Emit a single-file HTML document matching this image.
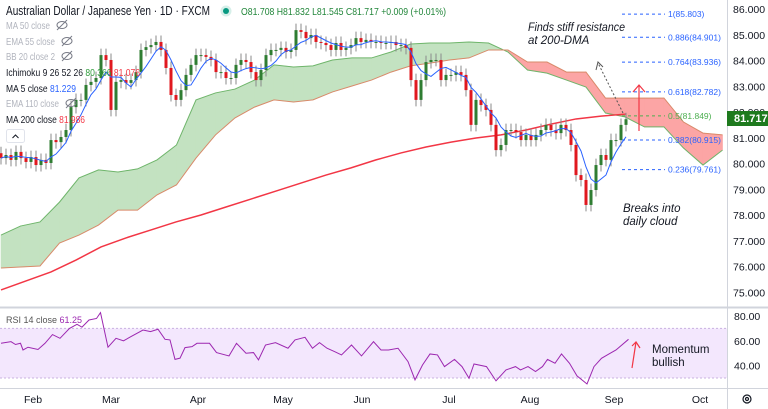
<!DOCTYPE html>
<html><head><meta charset="utf-8">
<style>
html,body{margin:0;padding:0;background:#fff;}
body{width:768px;height:409px;overflow:hidden;font-family:"Liberation Sans",sans-serif;}
svg{display:block}
</style></head>
<body>
<svg id="chart" width="768" height="409" viewBox="0 0 768 409" xmlns="http://www.w3.org/2000/svg" font-family="Liberation Sans, sans-serif">
  <rect x="0" y="0" width="768" height="409" fill="#fff"/>
  <g id="cloud"></g>
  <g id="ma200"></g>
  <g id="candles"></g>
  <g id="ma5"></g>
  <g id="fib"></g>
  <g id="yaxis"></g>
  <g id="rsi"></g>
  <g id="xaxis"></g>

  <line x1="727.5" y1="0" x2="727.5" y2="409" stroke="#d1d4dc"/>
  <line x1="0" y1="307.5" x2="768" y2="307.5" stroke="#d1d4dc" stroke-width="2"/>
  <line x1="0" y1="388.5" x2="768" y2="388.5" stroke="#d1d4dc"/>

  <!-- header -->
  <text x="6" y="15" font-size="12.5" fill="#131722" textLength="204" lengthAdjust="spacingAndGlyphs">Australian Dollar / Japanese Yen · 1D · FXCM</text>
  <circle cx="226" cy="11" r="5.5" fill="#d6efe9"/>
  <circle cx="226" cy="11" r="3" fill="#089981"/>
  <text x="241" y="15" font-size="10.5" fill="#22863a" textLength="205" lengthAdjust="spacingAndGlyphs">O81.708 H81.832 L81.545 C81.717 +0.009 (+0.01%)</text>

  <!-- legend -->
  <g font-size="10.5">
    <text x="6" y="29" fill="#b2b5be" textLength="44" lengthAdjust="spacingAndGlyphs">MA 50 close</text>
    <text x="6" y="45" fill="#b2b5be" textLength="49" lengthAdjust="spacingAndGlyphs">EMA 55 close</text>
    <text x="6" y="60" fill="#b2b5be" textLength="49" lengthAdjust="spacingAndGlyphs">BB 20 close 2</text>
    <text x="6" y="76" fill="#131722" textLength="134" lengthAdjust="spacingAndGlyphs">Ichimoku 9 26 52 26 <tspan fill="#2e9b3a">80.366</tspan> <tspan fill="#f23645">81.076</tspan></text>
    <text x="6" y="92" fill="#131722" textLength="70" lengthAdjust="spacingAndGlyphs">MA 5 close <tspan fill="#2962ff">81.229</tspan></text>
    <text x="6" y="107" fill="#b2b5be" textLength="53" lengthAdjust="spacingAndGlyphs">EMA 110 close</text>
    <text x="6" y="123" fill="#131722" textLength="79" lengthAdjust="spacingAndGlyphs">MA 200 close <tspan fill="#f23645">81.986</tspan></text>
    <g fill="none" stroke="#787b86" stroke-width="1">
      <ellipse cx="62" cy="25" rx="5" ry="3.5"/><line x1="57" y1="30" x2="67" y2="20"/>
      <ellipse cx="67" cy="41" rx="5" ry="3.5"/><line x1="62" y1="46" x2="72" y2="36"/>
      <ellipse cx="67" cy="56" rx="5" ry="3.5"/><line x1="62" y1="61" x2="72" y2="51"/>
      <ellipse cx="71" cy="103" rx="5" ry="3.5"/><line x1="66" y1="108" x2="76" y2="98"/>
    </g>
    <rect x="6.5" y="129.5" width="18" height="13" rx="2" fill="#fff" stroke="#e0e3eb"/>
    <path d="M12.5 138 L15.5 135 L18.5 138" fill="none" stroke="#131722" stroke-width="1"/>
  </g>

  <!-- annotations -->
  <g font-size="11.5" font-style="italic" fill="#131722">
    <text x="528" y="31" textLength="97" lengthAdjust="spacingAndGlyphs">Finds stiff resistance</text>
    <text x="528" y="44">at 200-DMA</text>
    <text x="623" y="212">Breaks into</text>
    <text x="623" y="225">daily cloud</text>
  </g>
  <text x="652" y="353" font-size="11.5" fill="#131722">Momentum</text>
  <text x="652" y="366" font-size="11.5" fill="#131722">bullish</text>
  <g>
    <line x1="623" y1="113" x2="598" y2="63" stroke="#555" stroke-width="1" stroke-dasharray="2,2"/>
    <path d="M596 70 L598 62 L603 67" fill="none" stroke="#555" stroke-width="1"/>
  </g>
  <g stroke="#f23645" stroke-width="1.2" fill="none">
    <line x1="639" y1="131" x2="639" y2="85"/>
    <path d="M633 92 L639 85 L645 92"/>
  </g>
  <g stroke="#f23645" stroke-width="1.2" fill="none">
    <line x1="632" y1="368" x2="636" y2="342"/>
    <path d="M632 346 L636 342 L640 348"/>
  </g>
  <rect x="727" y="111" width="41" height="15" fill="#1e7a1e"/>
  <text x="734" y="122" font-size="11" font-weight="bold" fill="#fff">81.717</text>
  <g fill="none" stroke="#131722" stroke-width="1.2">
    <circle cx="747" cy="399" r="4"/><circle cx="747" cy="399" r="1.5"/>
  </g>
</svg>
<script>
// ---------- data ----------
const closes = [
80.21,80.33,80.14,80.45,80.21,80.06,80.25,79.94,80.14,80.02,
80.91,80.83,81.03,81.30,82.19,82.47,82.47,83.05,83.17,83.32,
84.21,84.02,82.08,83.17,83.24,83.13,83.24,83.55,84.41,84.52,
84.60,84.72,84.41,83.71,82.66,82.47,82.85,83.44,83.83,84.21,
84.21,84.14,84.02,83.55,83.55,83.32,83.32,83.83,84.02,83.94,
83.55,83.24,83.63,84.21,84.41,84.41,84.49,84.33,84.41,85.18,
85.11,84.87,84.99,84.72,84.68,84.60,84.41,84.68,84.41,84.49,
84.60,84.87,84.72,84.80,84.72,84.72,84.68,84.68,84.72,84.60,
84.60,84.49,83.24,82.47,83.24,83.94,84.02,84.02,83.24,83.44,
83.44,83.55,83.44,82.85,81.50,82.47,82.27,82.08,81.50,80.52,
80.72,81.30,81.30,81.22,80.91,81.11,80.91,81.11,81.30,81.50,
81.30,81.18,81.50,81.30,80.72,79.55,79.36,78.39,78.97,79.94,
80.33,80.14,80.91,80.91,81.50,81.72];
const firstOpen = 80.40;
const ma200Values = [75.09,75.44,75.79,76.25,76.76,77.11,77.42,77.73,78.00,78.31,78.62,78.93,79.24,79.55,79.83,80.14,80.41,80.64,80.83,80.99,81.11,81.30,81.53,81.73,81.84,81.92];
const ma200Step = 5; // bars between samples
const spanA = [77.22,77.57,77.73,78.50,79.44,79.75,79.67,79.79,80.14,80.72,82.47,82.74,82.89,83.24,83.83,83.75,83.79,84.02,84.10,84.10,84.33,84.64,84.68,84.68,84.72,84.68,84.33,83.63,83.51,83.24,82.97,81.96,81.81,81.42,81.42,80.60,79.94,80.52];
const spanB = [75.94,75.98,76.02,76.91,77.22,77.61,78.19,78.19,78.78,79.17,80.21,81.11,81.77,82.19,82.47,82.39,82.47,82.78,83.01,83.24,83.55,83.79,83.90,84.02,84.10,84.41,84.41,83.94,83.94,83.55,83.55,82.54,82.54,82.54,82.54,81.61,81.18,81.11];
const cloudStep = 3.9; // bars between cloud samples
const fibLevels = ["1","0.886","0.764","0.618","0.5","0.382","0.236"];
const fibPrices = [85.803,84.901,83.936,82.782,81.849,80.915,79.761];
const priceTicks = [86,85,84,83,82,81,80,79,78,77,76,75];
const rsiBars = [0,2,2.9,3.9,4.4,5.4,7.4,8.8,10.3,11.8,13.7,15.2,16.2,17.6,19.1,19.9,21.4,23,24.5,26,28.4,29.9,31.4,32.8,33.8,34.8,35.8,36.8,38.2,39.2,41.7,43.1,45.6,47.1,49,50.5,51.5,52.9,54.9,57.4,58.8,60.8,62.3,63.7,65.2,66.7,68.1,70.1,72.1,74.5,76,77.5,79.4,81.4,82.8,84.3,85.8,87.3,88.7,90.7,92.2,93.6,94.6,97.1,99,101,102.9,103.9,105.4,106.9,108.3,109.3,110.8,112.1,113.7,115.2,117.2,118.6,120.1,121.6,123,125.5];
const rsiValues = [58,59.3,57,58,52.6,54.8,53,58,65,62,70,73.3,71,76.8,78,82.7,54.8,62,60,63.4,68.7,67.4,69.3,61.2,60.7,45,46,54.5,55.3,58,58,50.5,47.8,58,50,50.5,44.6,56.6,58.5,54,60.7,62.8,54,58.5,54,51.3,48.6,56.6,47.8,59.3,52.6,52.6,54,43.2,28.5,40.5,49.4,48.6,39.2,45,39.2,29.8,41.3,39.2,27.7,36.5,39.2,36.5,39.2,35.2,39.2,45,41.9,49.4,41.9,31.7,25.2,39.2,45.9,49.4,52.6,61.2];
const rsiTicks = [80,60,40];
const monthLabels = ["Feb","Mar","Apr","May","Jun","Jul","Aug","Sep","Oct"];
const monthBars = [6.4,22,39.4,56.4,72.2,89.6,105.8,122.6,139.8];

// ---------- scales ----------
const NS = "http://www.w3.org/2000/svg";
const X0 = 1, BW = 5;
const xOf = b => X0 + b*BW;
const yOf = p => 9 + (86 - p)*25.75;
const rY = v => 316 + (80 - v)*1.24;
function mk(tag, attrs, parent){const e=document.createElementNS(NS,tag);for(const k in attrs)e.setAttribute(k,attrs[k]);parent.appendChild(e);return e;}

// cloud
const cloud = document.getElementById('cloud');
const clip = mk('clipPath',{id:'plotclip'},cloud);
mk('rect',{x:0,y:0,width:727,height:306},clip);
const cg = mk('g',{'clip-path':'url(#plotclip)'},cloud);
for(let i=0;i<spanA.length-1;i++){
  const xa=xOf(i*cloudStep), xb=xOf((i+1)*cloudStep);
  const bull = (spanA[i]+spanA[i+1]) >= (spanB[i]+spanB[i+1]);
  const poly = mk('polygon',{points:`${xa},${yOf(spanA[i])} ${xb},${yOf(spanA[i+1])} ${xb},${yOf(spanB[i+1])} ${xa},${yOf(spanB[i])}`,fill:bull?'#c3e2c1':'#fca5a5',stroke:bull?'#c3e2c1':'#fca5a5','stroke-width':0.6},cg);
  
  
}
let pa='',pb='';
spanA.forEach((v,i)=>{pa+=(i?'L':'M')+xOf(i*cloudStep)+' '+yOf(v);});
spanB.forEach((v,i)=>{pb+=(i?'L':'M')+xOf(i*cloudStep)+' '+yOf(v);});
const la = mk('path',{d:pa,fill:'none',stroke:'#6fb56b','stroke-width':1},cg);


const lb = mk('path',{d:pb,fill:'none',stroke:'#d98a6a','stroke-width':1},cg);



// ma200
let dm='';
ma200Values.forEach((v,i)=>{dm+=(i?'L':'M')+xOf(i*ma200Step)+' '+yOf(v);});
const m2 = mk('path',{d:dm,fill:'none',stroke:'#f23645','stroke-width':1.5},document.getElementById('ma200'));



// candles
const cgp = document.getElementById('candles');
closes.forEach((c,i)=>{
  const o = i===0?firstOpen:closes[i-1];
  const up = c>=o;
  const col = up?'#2f7d32':'#e0181f';
  const hi = Math.max(o,c)+0.25, lo = Math.min(o,c)-0.25;
  const x = xOf(i);
  const w = mk('line',{x1:x,x2:x,y1:yOf(hi),y2:yOf(lo),stroke:'#8a8a8a','stroke-width':1},cgp);
  
  
  const b = mk('rect',{x:x-1.5,y:yOf(Math.max(o,c)),width:3,height:Math.max(1,yOf(Math.min(o,c))-yOf(Math.max(o,c))),fill:col},cgp);
  
  
});

// ma5
let d5='';
closes.forEach((c,i)=>{const s=closes.slice(Math.max(0,i-4),i+1);const a=s.reduce((p,q)=>p+q,0)/s.length;d5+=(i?'L':'M')+xOf(i)+' '+yOf(a);});
const m5 = mk('path',{d:d5,fill:'none',stroke:'#2962ff','stroke-width':1},document.getElementById('ma5'));



// fib
const fg = document.getElementById('fib');
fibPrices.forEach((p,i)=>{
  const isMid = fibLevels[i]==='0.5';
  const col = isMid?'#4caf50':'#2962ff';
  const l = mk('line',{x1:622,x2:665,y1:yOf(p),y2:yOf(p),stroke:col,'stroke-dasharray':'3,3','stroke-width':1},fg);
  
  
  const t = mk('text',{x:668,y:yOf(p)+3,'font-size':8.5,fill:col},fg);
  t.textContent = fibLevels[i]+'('+p.toFixed(3)+')';
  
  
});

// price axis
const yg = document.getElementById('yaxis');
priceTicks.forEach(p=>{
  const t = mk('text',{x:733,y:yOf(p)+4,'font-size':10.5,fill:'#131722'},yg);
  t.textContent = p.toFixed(3);
  
  
});

// rsi
const rg = document.getElementById('rsi');
const band = mk('rect',{x:0,y:rY(70),width:727,height:rY(30)-rY(70),fill:'#f3e7fd'},rg);


[70,30].forEach(v=>{
  const l = mk('line',{x1:0,x2:727,y1:rY(v),y2:rY(v),stroke:'#c9b2e0','stroke-dasharray':'2,2'},rg);
  
  
});
let dr='';
rsiValues.forEach((v,i)=>{dr+=(i?'L':'M')+xOf(rsiBars[i])+' '+rY(v);});
const rl = mk('path',{d:dr,fill:'none',stroke:'#9c27b0','stroke-width':1},rg);


const rt = mk('text',{x:6,y:323,'font-size':9,fill:'#555'},rg);
rt.innerHTML = 'RSI 14 close <tspan fill="#9c27b0">61.25</tspan>';


rsiTicks.forEach(v=>{
  const t = mk('text',{x:734,y:rY(v)+4,'font-size':10.5,fill:'#131722'},rg);
  t.textContent = v.toFixed(2);
  
  
});

// time axis
const xg = document.getElementById('xaxis');
monthLabels.forEach((m,i)=>{
  const t = mk('text',{x:xOf(monthBars[i]),y:403,'font-size':10.5,fill:'#131722','text-anchor':'middle'},xg);
  t.textContent = m;
  
  
});
</script>
</body></html>
